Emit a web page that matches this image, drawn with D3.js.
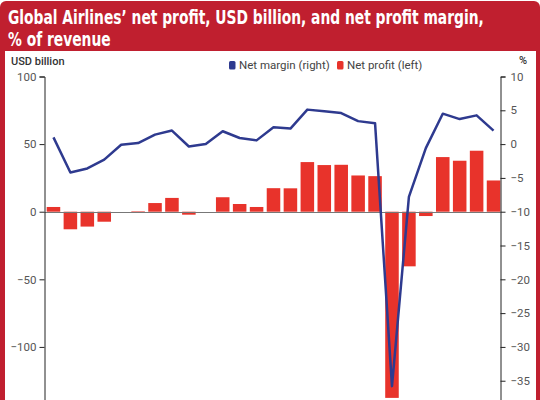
<!DOCTYPE html>
<html>
<head>
<meta charset="utf-8">
<script src="https://cdn.jsdelivr.net/npm/d3@7"></script>
<style>
html,body{margin:0;padding:0;background:#fff;}
svg{display:block;}
</style>
</head>
<body>
<svg id="chart" width="540" height="400"></svg>
<script>
// ---- data ----
const years = ["2000","2001","2002","2003","2004","2005","2006","2007","2008","2009","2010","2011","2012","2013","2014","2015","2016","2017","2018","2019","2020","2021","2022","2023","2024","2025","2026"];
const netProfit = [3.5,-13,-11,-7.4,0,0.4,6.4,10.2,-2.2,0,10.7,5.7,3.5,17.4,17.3,36.7,34.5,34.7,26.8,26.3,-137.7,-40.4,-3.2,40.4,37.7,45.1,23.1];
const netMargin = [1.0,-4.2,-3.6,-2.3,-0.1,0.15,1.4,2.0,-0.35,0.0,1.9,0.9,0.55,2.5,2.3,5.1,4.85,4.6,3.4,3.1,-35.8,-7.8,-0.6,4.5,3.7,4.25,2.0];
const leftTicks = [-100,-50,0,50,100];
const rightTicks = [-35,-30,-25,-20,-15,-10,-5,0,5,10];
const titleLines = ["Global Airlines\u2019 net profit, USD billion, and net profit margin,","% of revenue"];
const legendItems = [{label:"Net margin (right)", color:"#2E3A8F"},{label:"Net profit (left)", color:"#E8332B"}];

const svg = d3.select("#chart");
const RED = "#C01F2F";

// frame
svg.append("rect").attr("x",0).attr("y",1).attr("width",540).attr("height",430).attr("rx",6).attr("fill",RED);
svg.append("rect").attr("x",5).attr("y",51).attr("width",531).attr("height",380).attr("fill","#fff");

// title (horizontally condensed with a scale transform)
const titleG = svg.append("g");
const t1 = titleG.append("text").attr("y",24)
  .attr("font-family","'Liberation Sans Narrow','DejaVu Sans Condensed',sans-serif")
  .attr("font-weight","bold").attr("font-size",20).attr("fill","#fff")
  .text(titleLines[0]);
const natural = t1.node().getComputedTextLength();
const sx = Math.min(1, 476 / natural);
titleG.attr("transform",`translate(8,0) scale(${sx},1)`);
titleG.append("text").attr("y",46)
  .attr("font-family","'Liberation Sans Narrow','DejaVu Sans Condensed',sans-serif")
  .attr("font-weight","bold").attr("font-size",20).attr("fill","#fff")
  .text(titleLines[1]);

// scales
const x = d3.scaleBand().domain(years).range([45,502]).paddingInner(0.2).paddingOuter(0.1);
const yL = d3.scaleLinear().domain([-140,100]).range([401,76.5]);
const yR = d3.scaleLinear().domain([-38,10]).range([401,76.5]);

const FONT = "Roboto, 'Noto Sans', sans-serif";

// bars
svg.append("g").selectAll("rect").data(years).join("rect")
  .attr("x",d=>x(d))
  .attr("width",x.bandwidth())
  .attr("y",(d,i)=>yL(Math.max(0,netProfit[i])))
  .attr("height",(d,i)=>Math.abs(yL(netProfit[i])-yL(0)))
  .attr("fill",legendItems[1].color);

// zero line
svg.append("line").attr("x1",44.5).attr("x2",500.5).attr("y1",Math.round(yL(0))+0.5).attr("y2",Math.round(yL(0))+0.5)
  .attr("stroke","#777").attr("stroke-width",1);

// margin line
const line = d3.line().x((d,i)=>x(years[i])+x.bandwidth()/2).y(d=>yR(d));
svg.append("path").datum(netMargin).attr("d",line)
  .attr("fill","none").attr("stroke",legendItems[0].color).attr("stroke-width",2.5).attr("stroke-linejoin","round");

// axes
const gL = svg.append("g").attr("transform","translate(44.5,0)")
  .call(d3.axisLeft(yL).tickValues(leftTicks).tickSize(5).tickSizeOuter(5).tickPadding(3).tickFormat(d3.format("d")));
const gR = svg.append("g").attr("transform","translate(500.5,0)")
  .call(d3.axisRight(yR).tickValues(rightTicks).tickSize(5).tickSizeOuter(5).tickPadding(5).tickFormat(d3.format("d")));
[gL,gR].forEach(g=>{
  g.selectAll("path,line").attr("stroke","#222");
  g.selectAll("text").attr("font-family",FONT).attr("font-size",11.5).attr("fill","#555");
});

// axis titles
svg.append("text").attr("x",11).attr("y",65).attr("font-family",FONT).attr("font-size",11).attr("font-weight",500).attr("fill","#333").text("USD billion");
svg.append("text").attr("x",519).attr("y",64).attr("font-family",FONT).attr("font-size",11).attr("font-weight",500).attr("fill","#333").text("%");

// legend
const lx = [229, 337];
legendItems.forEach((d,i)=>{
  svg.append("rect").attr("x",lx[i]).attr("y",61).attr("width",6.5).attr("height",8.5).attr("rx",1.5).attr("fill",d.color);
  svg.append("text").attr("x",lx[i]+10).attr("y",69).attr("font-family",FONT).attr("font-size",11.5).attr("fill","#444").text(d.label);
});
</script>
</body>
</html>
